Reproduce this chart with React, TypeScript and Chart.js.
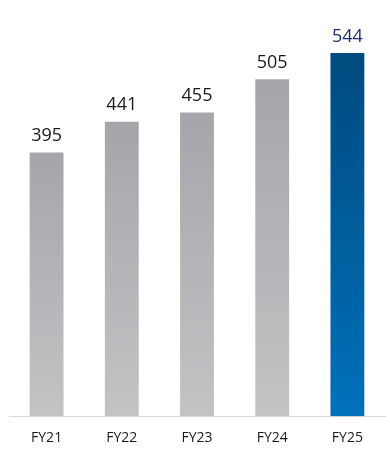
import React, { useEffect, useRef } from "react";
import { Chart, registerables } from "chart.js";

Chart.register(...registerables);

const categories = ["FY21", "FY22", "FY23", "FY24", "FY25"];
const values = [395, 441, 455, 505, 544];
const highlightIndex = 4;

const greyTop = "#a5a6a9";
const greyBottom = "#c2c3c5";
const blueTop = "#004a7f";
const blueBottom = "#0071ba";
const labelColor = "#1a1a1a";
const highlightLabelColor = "#1f2f6e";

const valueLabels = {
  id: "valueLabels",
  afterDatasetsDraw(chart: any) {
    const ctx = chart.ctx;
    const meta = chart.getDatasetMeta(0);
    ctx.save();
    ctx.font = '18px "Open Sans"';
    ctx.textAlign = "center";
    ctx.textBaseline = "alphabetic";
    meta.data.forEach((bar: any, i: number) => {
      ctx.fillStyle = i === highlightIndex ? highlightLabelColor : labelColor;
      ctx.fillText(String(values[i]), bar.x, bar.y - 11.5);
    });
    ctx.restore();
  },
};

export default function App() {
  const ref = useRef<HTMLCanvasElement>(null);
  useEffect(() => {
    if (!ref.current) return;
    const chart = new Chart(ref.current, {
      type: "bar",
      data: {
        labels: categories,
        datasets: [
          {
            data: values,
            barPercentage: 0.45,
            categoryPercentage: 1,
            borderWidth: 0,
            backgroundColor: (c: any) => {
              const ch = c.chart;
              const area = ch.chartArea;
              const hi = c.dataIndex === highlightIndex;
              if (!area || !ch.scales.y || c.dataIndex === undefined) return hi ? blueBottom : greyBottom;
              const v = values[c.dataIndex];
              const yTop = ch.scales.y.getPixelForValue(v);
              const yBot = ch.scales.y.getPixelForValue(0);
              const g = ch.ctx.createLinearGradient(0, yTop, 0, yBot);
              g.addColorStop(0, hi ? blueTop : greyTop);
              g.addColorStop(1, hi ? blueBottom : greyBottom);
              return g;
            },
          },
        ],
      },
      options: {
        animation: false,
        responsive: true,
        maintainAspectRatio: false,
        layout: { padding: { left: 9, right: 5, top: 15.7, bottom: 3.5 } },
        plugins: { legend: { display: false }, tooltip: { enabled: false } },
        scales: {
          y: { display: false, min: 0, max: 600 },
          x: {
            grid: { display: false, drawTicks: false },
            border: { display: true, color: "#d9d9d9", width: 1 },
            ticks: {
              color: "#1a1a1a",
              padding: 13.2,
              font: { family: '"Open Sans"', size: 14 },
            },
          },
        },
      },
      plugins: [valueLabels],
    });
    return () => chart.destroy();
  }, []);
  return (
    <div style={{ position: "fixed", left: 0, top: 0, width: 390, height: 463, background: "#fff" }}>
      <canvas ref={ref} />
    </div>
  );
}
